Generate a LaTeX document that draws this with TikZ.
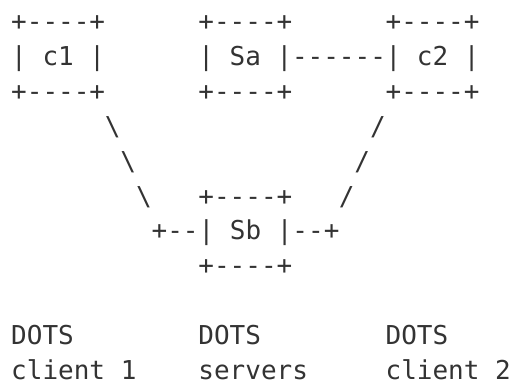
\documentclass[tikz,border=0pt]{standalone}
\usepackage{fontspec}
\setmonofont{DejaVu Sans Mono}
\usepackage{tikz}

\begin{document}
\begin{tikzpicture}[x=15.6pt, y=-34.8pt,
    ascii/.style={anchor=base west, inner sep=0pt, font=\fontsize{26}{30}\selectfont\ttfamily, text=black!80}
]
\useasboundingbox (-11pt,31pt) rectangle (502pt,-354pt);

% client 1 box
\node[ascii] (c1top) at (0,0) {+----+};
\node[ascii] (c1mid) at (0,1) {| c1 |};
\node[ascii] (c1bot) at (0,2) {+----+};

% server Sa box and link to client 2
\node[ascii] (satop) at (12,0) {+----+};
\node[ascii] (samid) at (12,1) {| Sa |};
\node[ascii] (salink) at (18,1) {------};
\node[ascii] (sabot) at (12,2) {+----+};

% client 2 box
\node[ascii] (c2top) at (24,0) {+----+};
\node[ascii] (c2mid) at (24,1) {| c2 |};
\node[ascii] (c2bot) at (24,2) {+----+};

% diagonals down to Sb
\node[ascii] (left1) at (6,3) {\textbackslash};
\node[ascii] (left2) at (7,4) {\textbackslash};
\node[ascii] (left3) at (8,5) {\textbackslash};
\node[ascii] (right1) at (23,3) {/};
\node[ascii] (right2) at (22,4) {/};
\node[ascii] (right3) at (21,5) {/};

% server Sb box
\node[ascii] (sbtop) at (12,5) {+----+};
\node[ascii] (sbmid) at (9,6) {+--| Sb |--+};
\node[ascii] (sbbot) at (12,7) {+----+};

% labels
\node[ascii] (lbl1a) at (0,9) {DOTS};
\node[ascii] (lbl1b) at (0,10) {client 1};
\node[ascii] (lbl2a) at (12,9) {DOTS};
\node[ascii] (lbl2b) at (12,10) {servers};
\node[ascii] (lbl3a) at (24,9) {DOTS};
\node[ascii] (lbl3b) at (24,10) {client 2};

\end{tikzpicture}
\end{document}
